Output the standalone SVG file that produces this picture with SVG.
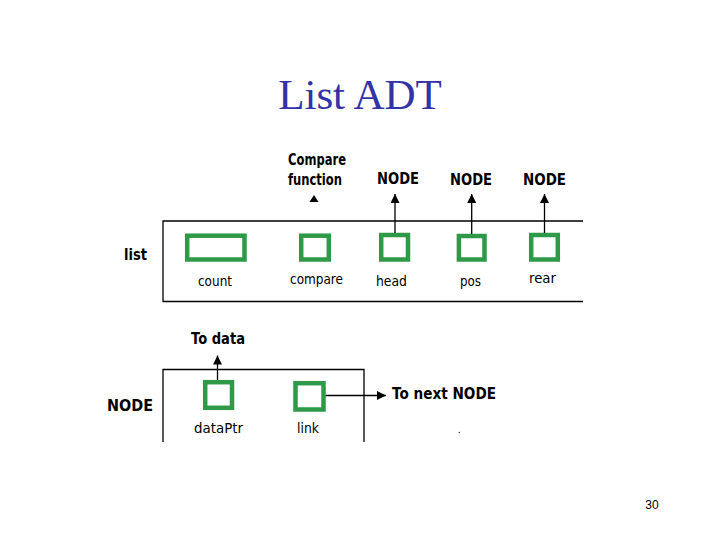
<svg xmlns="http://www.w3.org/2000/svg" width="720" height="540" viewBox="0 0 720 540">
<style>
.t{font-family:"DejaVu Sans","Liberation Sans",sans-serif;fill:#000}
.b{font-weight:bold;font-size:15px}
.n{font-size:13.5px}
.box{fill:none;stroke:#2e9a48;stroke-width:4.5}
.ln{fill:none;stroke:#000;stroke-width:1.3}
</style>
<defs>
<marker id="ah" viewBox="0 0 10 10" refX="10" refY="5" markerWidth="9" markerHeight="9" markerUnits="userSpaceOnUse" orient="auto">
<path d="M0,0 L10,5 L0,10 Z" fill="#000"/>
</marker>
</defs>
<rect width="720" height="540" fill="#fff"/>
<text x="360" y="109" text-anchor="middle" font-family="Liberation Serif,serif" font-size="43" fill="#3333a6">List ADT</text>
<text x="652" y="509" text-anchor="middle" font-family="Liberation Sans,sans-serif" font-size="12" fill="#000">30</text>

<g id="list">
<path class="ln" d="M583,221 H163 V301.5 H583"/>
<text class="t b" x="124" y="260" textLength="23" lengthAdjust="spacingAndGlyphs">list</text>
</g>
<g id="count">
<rect class="box" x="187.2" y="235.7" width="57.3" height="23.8"/>
<text class="t n" x="198" y="286" textLength="34" lengthAdjust="spacingAndGlyphs">count</text>
</g>
<g id="compare">
<rect class="box" x="301.2" y="235.7" width="27.6" height="23.8"/>
<text class="t n" x="290" y="284" textLength="53" lengthAdjust="spacingAndGlyphs">compare</text>
<text class="t b" x="288" y="165" textLength="58" lengthAdjust="spacingAndGlyphs">Compare</text>
<text class="t b" x="288" y="185" textLength="54" lengthAdjust="spacingAndGlyphs">function</text>
<path d="M309.5,202 L314,195 L318.5,202 Z" fill="#000"/>
</g>
<g id="head">
<rect class="box" x="381.2" y="235" width="26.8" height="24.5"/>
<text class="t n" x="376" y="286" textLength="31" lengthAdjust="spacingAndGlyphs">head</text>
<text class="t b" x="377" y="184" textLength="42" lengthAdjust="spacingAndGlyphs">NODE</text>
</g>
<g id="pos">
<rect class="box" x="458.9" y="236" width="25.6" height="23.5"/>
<text class="t n" x="460" y="286" textLength="21" lengthAdjust="spacingAndGlyphs">pos</text>
<text class="t b" x="450" y="185" textLength="42" lengthAdjust="spacingAndGlyphs">NODE</text>
</g>
<g id="rear">
<rect class="box" x="531.2" y="235" width="26.6" height="24.5"/>
<text class="t n" x="529" y="283" textLength="27" lengthAdjust="spacingAndGlyphs">rear</text>
<text class="t b" x="523" y="185" textLength="43" lengthAdjust="spacingAndGlyphs">NODE</text>
</g>

<g id="node">
<path class="ln" d="M163,442 V369.5 H364 V442"/>
<text class="t b" x="107" y="411" textLength="46" lengthAdjust="spacingAndGlyphs">NODE</text>
<text class="t b" x="191" y="344" textLength="54" lengthAdjust="spacingAndGlyphs">To data</text>
<text class="t b" x="392" y="399" textLength="104" lengthAdjust="spacingAndGlyphs">To next NODE</text>
<circle cx="459.3" cy="432.5" r="0.7" fill="#333"/>
</g>
<g id="dataPtr">
<rect class="box" x="205.2" y="382.2" width="26.8" height="25.6"/>
<text class="t n" x="194" y="433" textLength="49" lengthAdjust="spacingAndGlyphs">dataPtr</text>
</g>
<g id="link">
<rect class="box" x="295.5" y="383.2" width="28" height="26.3"/>
<text class="t n" x="297" y="433" textLength="22" lengthAdjust="spacingAndGlyphs">link</text>
</g>

<g id="connectors">
<line class="ln" x1="395" y1="233" x2="395" y2="194" marker-end="url(#ah)"/>
<line class="ln" x1="471.7" y1="234" x2="471.7" y2="194" marker-end="url(#ah)"/>
<line class="ln" x1="544.5" y1="233" x2="544.5" y2="194" marker-end="url(#ah)"/>
<line class="ln" x1="217.5" y1="380" x2="217.5" y2="355.5" marker-end="url(#ah)"/>
<line class="ln" x1="325.7" y1="395.5" x2="386" y2="395.5" marker-end="url(#ah)"/>
</g>
</svg>
